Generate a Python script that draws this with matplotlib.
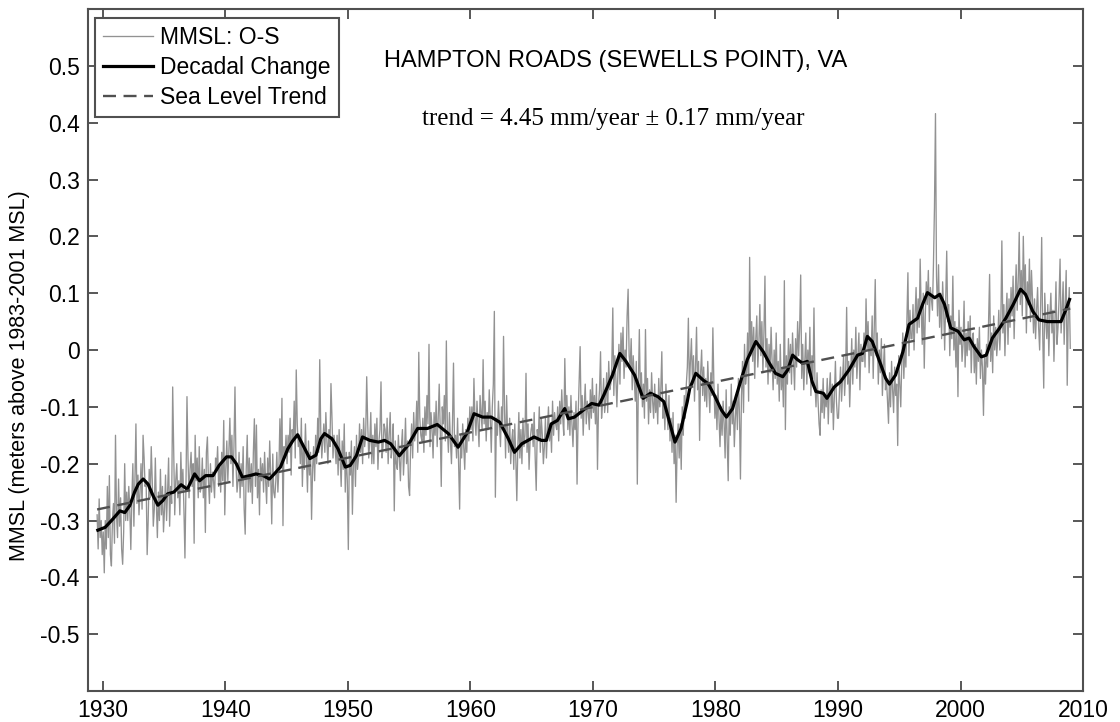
import numpy as np
import matplotlib
matplotlib.use("Agg")
import matplotlib.pyplot as plt
from matplotlib.ticker import FuncFormatter

# Monthly mean sea level, observed minus seasonal (mm), starting July 1929
start_year, start_month = 1929, 7

mmsl_1929 = [-290, -350, -262, -330, -300, -360]

mmsl_1930s = [
    -320, -392, -300, -350, -240, -330, -221, -360, -380, -300, -270, -340,
    -150, -290, -330, -227, -310, -260, -350, -377, -320, -200, -300, -250,
    -300, -240, -280, -351, -260, -200, -310, -230, -130, -270, -220, -290,
    -250, -200, -280, -150, -190, -240, -230, -360, -300, -210, -260, -170,
    -230, -310, -280, -190, -270, -330, -250, -300, -210, -290, -240, -320,
    -280, -220, -300, -250, -190, -310, -240, -270, -65, -180, -290, -230,
    -200, -260, -230, -290, -180, -250, -210, -280, -366, -240, -82, -190,
    -260, -210, -180, -240, -200, -340, -150, -230, -190, -260, -170, -250,
    -240, -190, -260, -210, -321, -180, -153, -230, -270, -200, -250, -215,
    -230, -260, -190, -210, -170, -240, -200, -250, -180, -230, -124, -290,
]

mmsl_1940s = [
    -210, -160, -230, -180, -120, -200, -150, -240, -170, -65, -200, -250,
    -230, -180, -260, -200, -240, -170, -280, -324, -210, -150, -250, -190,
    -250, -200, -270, -180, -121, -240, -132, -260, -210, -290, -190, -230,
    -200, -250, -180, -230, -270, -190, -240, -160, -220, -306, -183, -250,
    -260, -230, -180, -250, -210, -121, -200, -85, -309, -170, -190, -150,
    -200, -150, -180, -120, -220, -140, -160, -90, -190, -35, -130, -170,
    -150, -200, -120, -240, -170, -210, -130, -190, -250, -160, -220, -180,
    -298, -210, -170, -230, -150, -200, -120, -180, -17, -140, -190, -160,
    -130, -180, -110, -160, -200, -140, -170, -59, -120, -190, -150, -170,
    -200, -150, -220, -140, -190, -240, -160, -210, -130, -250, -180, -230,
]

mmsl_1950s = [
    -351, -180, -220, -160, -289, -200, -170, -240, -150, -210, -190, -130,
    -180, -140, -200, -120, -170, -150, -47, -130, -190, -160, -110, -200,
    -150, -200, -130, -170, -120, -210, -160, -140, -56, -190, -170, -130,
    -140, -180, -120, -200, -150, -110, -190, -170, -130, -283, -160, -200,
    -210, -150, -190, -230, -170, -140, -220, -180, -120, -200, -160, -240,
    -256, -170, -130, -190, -110, -160, -140, -90, -180, -4, -120, -150,
    -160, -120, -180, -100, -150, -80, -130, 10, -170, -110, -140, -190,
    -110, -150, -90, -170, -120, -60, -140, -240, -100, -130, -80, -160,
    16, -140, -180, -110, -160, -200, -130, -23, -170, -150, -190, -120,
    -200, -280, -150, -190, -130, -170, -210, -140, -180, -120, -160, -100,
]

mmsl_1960s = [
    -140, -100, -160, -50, -120, -150, -90, -130, -170, -80, -110, -140,
    -17, -130, -90, -160, -110, -140, -70, -120, -180, -100, -60, 68,
    -259, -120, -150, -90, -130, -170, -100, -140, 24, -110, -190, -80,
    -150, -180, -120, -200, -160, -140, -210, -130, -190, -265, -170, -110,
    -190, -140, -200, -120, -170, -150, -41, -180, -130, -210, -160, -140,
    -130, -170, -110, -190, -247, -140, -160, -100, -180, -120, -150, -200,
    -170, -120, -190, -140, -100, -160, -130, -180, -90, -150, -110, -130,
    -140, -100, -160, -90, -130, -70, -120, -150, -15, -110, -80, -140,
    -100, -150, -80, -130, -170, -110, -140, -90, -236, -120, -60, 6,
    -120, -80, -150, -100, -60, -130, -90, -110, -140, -70, -120, -50,
]

mmsl_1970s = [
    -110, -80, -130, -60, -210, -100, -70, -3, -120, -90, -50, -110,
    -90, -40, -110, -20, -70, -60, -30, 74, -80, -10, -50, -100,
    -40, 10, -60, 30, -20, 40, -50, 0, -30, 60, 107, -10,
    -30, 20, -70, -10, -50, -90, -20, -236, -60, 36, -80, -40,
    -100, -60, -120, 36, -90, -50, -130, -70, -110, -40, -90, -120,
    -60, -110, -80, -130, -50, -100, -70, -3, -120, -90, -140, -60,
    -100, -140, -80, -160, -120, -180, -110, -200, -150, -268, -170, -130,
    -190, -130, -210, -100, -150, -80, -120, -60, -30, 56, -70, -20,
    20, -60, -10, -90, -30, 40, -70, -20, -159, -40, 0, -80,
    -30, -90, -50, -100, -20, -70, -110, -40, -80, 39, -60, -120,
]

mmsl_1980s = [
    -80, -140, -60, -120, -170, -100, -150, -90, -130, -190, -70, -160,
    -230, -100, -150, -60, -130, -90, -170, -120, -80, -140, -50, -110,
    -227, -80, -20, -110, 10, -60, -40, 30, -90, 163, -10, 50,
    -20, 40, -50, 20, 60, -30, 10, 80, -10, 50, -40, 30,
    130, -30, 20, -60, 10, -40, 40, -20, -70, 0, -50, 30,
    -60, -20, -90, 10, -70, -30, -100, 122, -140, -10, -60, 20,
    -40, 10, -60, 30, -20, -70, 20, -30, 50, -10, 40, 132,
    -50, 10, -70, -20, 30, -60, 0, -40, 40, -80, -10, -50,
    74, -60, -100, -40, -90, -130, -150, -70, -110, -50, -120, -80,
    -100, -50, -130, -70, -40, -110, -60, -140, -80, -20, -90, -120,
]

mmsl_1990s = [
    -120, -70, -30, -90, -50, -10, -80, -40, 75, -60, -20, -100,
    -40, 20, -60, 0, -30, 40, -50, -10, 30, -70, 10, -20,
    -20, 30, -30, 90, 0, 50, -40, 20, -10, 60, -50, 40,
    124, -10, 30, -60, 0, -40, 20, -80, -30, 10, -70, -50,
    -90, -129, -40, -100, -20, -70, -110, -30, -80, -60, -168, -10,
    -60, -100, -20, 30, -50, 10, -30, 50, 136, -10, 70, 20,
    20, 80, 0, 60, 110, 30, 90, 40, 160, 70, 10, 100,
    -32, 60, 120, 80, 140, 50, 110, 90, 70, 150, 251, 416,
    130, 60, 150, 40, 100, 20, 120, 70, 0, 90, 174, 50,
    80, -10, 60, 20, 130, 0, 50, -30, 40, -82, 70, 10,
]

mmsl_2000s = [
    40, -20, 10, 86, -30, 30, -10, 50, 0, 60, -40, 20,
    30, -40, 10, -60, 20, -20, 40, -50, 0, -30, -115, -10,
    -60, 10, -30, 50, 133, -20, 30, -40, 60, 0, 40, -10,
    20, 70, 0, 50, 192, 30, 80, -10, 60, 100, 10, 90,
    40, 110, 60, 130, 20, 90, 150, 70, 120, 207, 80, 140,
    60, 200, 100, 150, 30, 120, 80, 160, 50, 140, 90, 30,
    90, 20, 70, 110, 40, 0, 80, 198, 30, -67, 100, 50,
    20, 80, -10, 60, 100, 30, 70, -20, 50, 120, 10, 40,
    90, 160, 30, 70, 120, 10, 80, 140, -62, 60, 110, 3,
]

# Smoothed (decadal change) curve: decimal year, level in metres
decadal_year = [
    1929.6, 1930.2, 1930.8, 1931.4, 1931.8, 1932.2, 1932.6, 1932.9, 1933.3, 1933.7,
    1934.1, 1934.5, 1934.9, 1935.3, 1935.8, 1936.4, 1936.9, 1937.5, 1937.9, 1938.4,
    1939.0, 1939.5, 1940.1, 1940.5, 1940.9, 1941.4, 1942.0, 1942.5, 1943.1, 1943.6,
    1944.0, 1944.5, 1945.1, 1945.5, 1945.9, 1946.5, 1946.9, 1947.4, 1947.8, 1948.1,
    1948.7, 1949.2, 1949.8, 1950.2, 1950.7, 1951.2, 1951.8, 1952.5, 1953.0, 1953.5,
    1954.2, 1954.9, 1955.7, 1956.5, 1957.3, 1958.2, 1959.0, 1959.7, 1960.3, 1961.0,
    1961.7, 1962.4, 1963.1, 1963.6, 1964.2, 1964.7, 1965.2, 1965.8, 1966.2, 1966.6,
    1967.1, 1967.7, 1968.0, 1968.5, 1969.2, 1969.9, 1970.5, 1970.9, 1971.6, 1972.2,
    1972.7, 1973.4, 1974.1, 1974.7, 1975.3, 1975.8, 1976.7, 1977.2, 1977.7, 1977.9,
    1978.4, 1979.0, 1979.4, 1979.9, 1980.5, 1980.9, 1981.4, 1982.0, 1982.6, 1983.3,
    1983.9, 1984.4, 1984.9, 1985.5, 1985.9, 1986.3, 1986.7, 1987.1, 1987.5, 1987.9,
    1988.2, 1988.8, 1989.1, 1989.7, 1990.2, 1990.9, 1991.6, 1992.0, 1992.4, 1992.8,
    1993.5, 1993.9, 1994.2, 1994.7, 1995.3, 1995.8, 1996.5, 1996.9, 1997.3, 1997.9,
    1998.3, 1998.7, 1999.2, 1999.8, 2000.3, 2000.7, 2001.1, 2001.7, 2002.1, 2002.6,
    2003.2, 2003.7, 2004.3, 2004.9, 2005.3, 2005.9, 2006.4, 2007.1, 2007.6, 2008.2,
    2008.6, 2008.9,
]
decadal_level = [
    -0.317, -0.312, -0.298, -0.283, -0.286, -0.274, -0.250, -0.236, -0.227, -0.236,
    -0.256, -0.273, -0.265, -0.253, -0.250, -0.237, -0.245, -0.218, -0.230, -0.221,
    -0.221, -0.203, -0.188, -0.188, -0.200, -0.224, -0.221, -0.218, -0.221, -0.227,
    -0.218, -0.206, -0.174, -0.160, -0.149, -0.174, -0.191, -0.185, -0.156, -0.147,
    -0.156, -0.174, -0.206, -0.203, -0.186, -0.153, -0.159, -0.162, -0.159, -0.165,
    -0.186, -0.168, -0.138, -0.138, -0.131, -0.147, -0.171, -0.147, -0.112, -0.118,
    -0.118, -0.127, -0.156, -0.180, -0.165, -0.159, -0.153, -0.159, -0.159, -0.130,
    -0.124, -0.103, -0.121, -0.118, -0.106, -0.094, -0.097, -0.079, -0.044, -0.006,
    -0.020, -0.044, -0.085, -0.076, -0.082, -0.091, -0.162, -0.138, -0.091, -0.068,
    -0.041, -0.053, -0.059, -0.079, -0.106, -0.118, -0.103, -0.059, -0.017, 0.015,
    -0.003, -0.023, -0.041, -0.047, -0.035, -0.009, -0.017, -0.023, -0.020, -0.056,
    -0.073, -0.076, -0.085, -0.065, -0.056, -0.035, -0.009, -0.006, 0.024, 0.015,
    -0.026, -0.050, -0.060, -0.044, -0.003, 0.045, 0.056, 0.080, 0.101, 0.092,
    0.098, 0.080, 0.039, 0.033, 0.018, 0.021, 0.006, -0.012, -0.009, 0.021,
    0.039, 0.056, 0.080, 0.107, 0.098, 0.068, 0.053, 0.050, 0.050, 0.050,
    0.071, 0.089,
]

# Linear sea level trend
trend_rate_mm = 4.45
trend_err_mm = 0.17
trend_ref_year = 1969.55
trend_ref_level = -0.1025

station_title = "HAMPTON ROADS (SEWELLS POINT), VA"
y_label = "MMSL (meters above 1983-2001 MSL)"
x_ticks = [1930, 1940, 1950, 1960, 1970, 1980, 1990, 2000, 2010]
y_ticks = [-0.5, -0.4, -0.3, -0.2, -0.1, 0.0, 0.1, 0.2, 0.3, 0.4, 0.5]

plt.rcParams["font.family"] = ["Liberation Sans", "DejaVu Sans"]
plt.rcParams["axes.unicode_minus"] = False

mmsl_mm = np.concatenate([mmsl_1929, mmsl_1930s, mmsl_1940s, mmsl_1950s,
                          mmsl_1960s, mmsl_1970s, mmsl_1980s, mmsl_1990s,
                          mmsl_2000s]).astype(float)
month_index = np.arange(len(mmsl_mm))
month_year = start_year + (start_month - 1 + month_index + 0.5) / 12.0

fig = plt.figure(figsize=(11.2, 7.22), dpi=100)
ax = fig.add_axes([0.0786, 0.0429, 0.8884, 0.9446])

ax.plot(month_year, mmsl_mm / 1000.0, color="#929292", lw=0.95,
        label="MMSL: O-S", zorder=2)
ax.plot(decadal_year, decadal_level, color="black", lw=2.3,
        label="Decadal Change", zorder=3)
trend_years = np.array([month_year[0], month_year[-1]])
trend_level = trend_ref_level + trend_rate_mm / 1000.0 * (trend_years - trend_ref_year)
ax.plot(trend_years, trend_level, color="#505050", lw=1.7, dashes=(5.5, 3.2),
        label="Sea Level Trend", zorder=4)

ax.set_xlim(1928.8, 2010)
ax.set_ylim(-0.6, 0.6)
ax.set_xticks(x_ticks)
ax.set_yticks(y_ticks)
ax.yaxis.set_major_formatter(FuncFormatter(lambda v, _: "0" if abs(v) < 1e-9 else f"{v:.1f}"))
ax.tick_params(direction="in", top=True, right=True, length=7, width=1.3,
               color="#4a4a4a", labelsize=16.5, pad=6)
for side in ax.spines.values():
    side.set_color("#505050")
    side.set_linewidth(1.5)

ax.set_ylabel(y_label, fontsize=15.5)
ax.yaxis.set_label_coords(-0.058, 0.463)

ax.text(0.530, 0.9154, station_title, transform=ax.transAxes,
        ha="center", va="baseline", fontsize=17)
ax.text(0.528, 0.830,
        f"trend = {trend_rate_mm:.2f} mm/year \u00b1 {trend_err_mm:.2f} mm/year",
        transform=ax.transAxes, ha="center", va="baseline", fontsize=18,
        family=["Liberation Serif", "DejaVu Serif"])

leg = ax.legend(loc="upper left", bbox_to_anchor=(0.007, 0.987), borderaxespad=0,
                fontsize=16.5, frameon=True, fancybox=False, edgecolor="#505050",
                framealpha=1, handlelength=2.2, handletextpad=0.3,
                labelspacing=0.3, borderpad=0.35)
leg.get_frame().set_linewidth(1.5)

fig.savefig("out.png", dpi=100)
